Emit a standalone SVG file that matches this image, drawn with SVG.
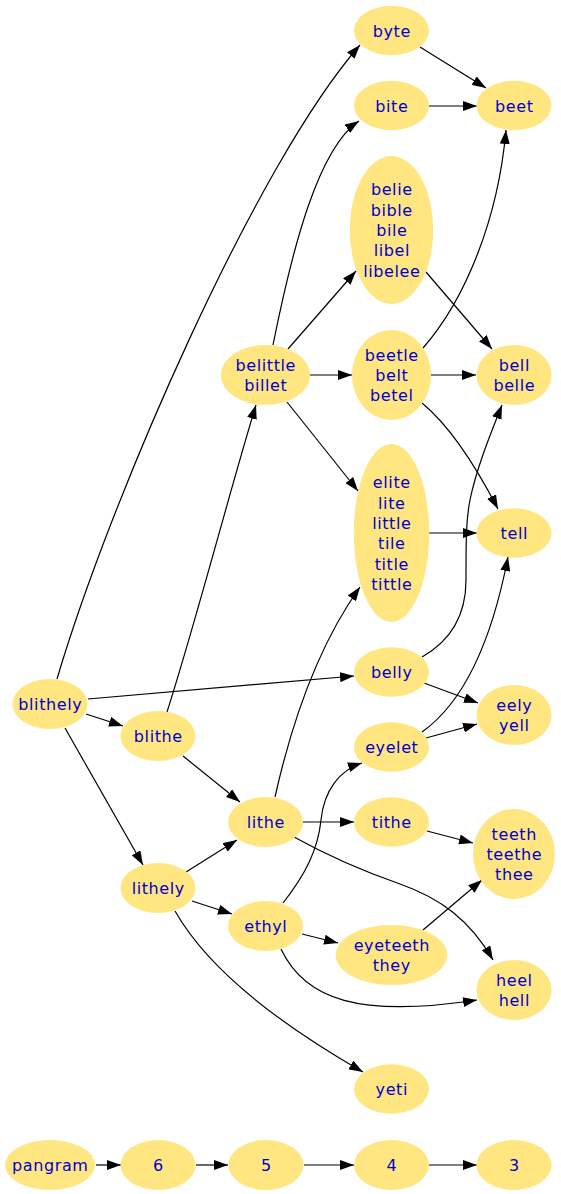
<svg xmlns="http://www.w3.org/2000/svg" width="561" height="1194" viewBox="0 0 561 1194">
<defs>
<style>
.n ellipse{fill:#ffe680;stroke:none}
.n text{font-family:"DejaVu Sans",sans-serif;font-size:16px;letter-spacing:0.6px;fill:#0000d0;text-anchor:middle}
.e path{fill:none;stroke:#000;stroke-width:1.2;marker-end:url(#ah)}
</style>
<marker id="ah" viewBox="0 0 14 10" refX="14" refY="5" markerWidth="14" markerHeight="10" markerUnits="userSpaceOnUse" orient="auto"><path d="M0,0 L14,5 L0,10 z" fill="#000"/></marker>
</defs>
<rect width="561" height="1194" fill="#fff"/>
<g id="edges" class="e">
<path d="M57,679 C110,500 255,165 360,45"/>
<path d="M88,699 L354,676"/>
<path d="M86,714 L123,726"/>
<path d="M65,728 L143,865"/>
<path d="M167,712 C195,625 230,490 256,405"/>
<path d="M183,756 L240,802"/>
<path d="M186,872 L237,840"/>
<path d="M192,901 L232,914"/>
<path d="M175,911 C200,955 255,1010 363,1072"/>
<path d="M273,345 C292,250 318,148 359,121"/>
<path d="M288,349 L356,271"/>
<path d="M310,375 L352,375"/>
<path d="M287,402 L358,491"/>
<path d="M275,797 C290,730 315,650 360,587"/>
<path d="M303,822 L354,822"/>
<path d="M294,837 C330,857 360,870 400,884 C440,898 470,920 493,960"/>
<path d="M283,903 C305,875 318,850 321,820 C324,790 340,770 362,763"/>
<path d="M302,934 L338,943"/>
<path d="M281,949 C305,1000 360,1018 477,1000"/>
<path d="M420,47 L486,88"/>
<path d="M429,106 L477,106"/>
<path d="M426,272 L492,349"/>
<path d="M423,348 C465,300 498,220 506,130"/>
<path d="M431,375 L476,375"/>
<path d="M422,403 C445,422 470,455 498,509"/>
<path d="M429,533 L477,533"/>
<path d="M422,657 C452,640 466,615 466,580 C466,540 466,520 470,500 C476,470 490,435 502,405"/>
<path d="M424,683 L478,703"/>
<path d="M426,738 L477,724"/>
<path d="M422,732 C460,705 490,650 508,557"/>
<path d="M427,831 L473,843"/>
<path d="M423,930 L482,880"/>
<path d="M96,1165 L121,1165"/>
<path d="M196,1165 L228,1165"/>
<path d="M304,1165 L354,1165"/>
<path d="M429,1165 L477,1165"/>
</g>
<g id="byte" class="n"><ellipse cx="391.5" cy="30.5" rx="37.5" ry="24.7"/><text x="391.8" y="36.5">byte</text></g>
<g id="bite" class="n"><ellipse cx="391.5" cy="105.5" rx="37.5" ry="24.7"/><text x="391.8" y="111.5">bite</text></g>
<g id="beet" class="n"><ellipse cx="514" cy="105.5" rx="37.5" ry="24.7"/><text x="514.3" y="111.5">beet</text></g>
<g id="belie" class="n"><ellipse cx="391.5" cy="230" rx="41.7" ry="74"/><text x="391.8" y="195.4">belie</text><text x="391.8" y="215.7">bible</text><text x="391.8" y="236">bile</text><text x="391.8" y="256.3">libel</text><text x="391.8" y="276.6">libelee</text></g>
<g id="belittle" class="n"><ellipse cx="265.5" cy="375" rx="44.7" ry="30"/><text x="265.8" y="370.9">belittle</text><text x="265.8" y="391.2">billet</text></g>
<g id="beetle" class="n"><ellipse cx="391.5" cy="375" rx="39.5" ry="45"/><text x="391.8" y="360.7">beetle</text><text x="391.8" y="381">belt</text><text x="391.8" y="401.3">betel</text></g>
<g id="bell" class="n"><ellipse cx="514" cy="375" rx="37.5" ry="30"/><text x="514.3" y="370.9">bell</text><text x="514.3" y="391.2">belle</text></g>
<g id="elite" class="n"><ellipse cx="391.5" cy="533" rx="37.7" ry="89"/><text x="391.8" y="488.3">elite</text><text x="391.8" y="508.6">lite</text><text x="391.8" y="528.9">little</text><text x="391.8" y="549.2">tile</text><text x="391.8" y="569.5">title</text><text x="391.8" y="589.8">tittle</text></g>
<g id="tell" class="n"><ellipse cx="514" cy="533" rx="37.5" ry="24.7"/><text x="514.3" y="539">tell</text></g>
<g id="blithely" class="n"><ellipse cx="50" cy="704" rx="37.5" ry="25"/><text x="50.3" y="710">blithely</text></g>
<g id="belly" class="n"><ellipse cx="391.5" cy="672" rx="37.5" ry="24.7"/><text x="391.8" y="678">belly</text></g>
<g id="eely" class="n"><ellipse cx="514" cy="715" rx="37.5" ry="30"/><text x="514.3" y="710.9">eely</text><text x="514.3" y="731.2">yell</text></g>
<g id="blithe" class="n"><ellipse cx="158" cy="736" rx="37.5" ry="25"/><text x="158.3" y="742">blithe</text></g>
<g id="eyelet" class="n"><ellipse cx="391.5" cy="747" rx="37.5" ry="24.7"/><text x="391.8" y="753">eyelet</text></g>
<g id="lithe" class="n"><ellipse cx="265.5" cy="822" rx="37.5" ry="25"/><text x="265.8" y="828">lithe</text></g>
<g id="tithe" class="n"><ellipse cx="391.5" cy="822" rx="37.5" ry="24.7"/><text x="391.8" y="828">tithe</text></g>
<g id="teeth" class="n"><ellipse cx="514" cy="854" rx="41" ry="45"/><text x="514.3" y="839.7">teeth</text><text x="514.3" y="860">teethe</text><text x="514.3" y="880.3">thee</text></g>
<g id="lithely" class="n"><ellipse cx="158" cy="888" rx="37.5" ry="25"/><text x="158.3" y="894">lithely</text></g>
<g id="ethyl" class="n"><ellipse cx="265.5" cy="926" rx="37.5" ry="25"/><text x="265.8" y="932">ethyl</text></g>
<g id="eyeteeth" class="n"><ellipse cx="391.5" cy="955" rx="55.8" ry="30"/><text x="391.8" y="950.9">eyeteeth</text><text x="391.8" y="971.2">they</text></g>
<g id="heel" class="n"><ellipse cx="514" cy="990" rx="37.5" ry="30"/><text x="514.3" y="985.9">heel</text><text x="514.3" y="1006.2">hell</text></g>
<g id="yeti" class="n"><ellipse cx="391.5" cy="1089" rx="37.5" ry="24.7"/><text x="391.8" y="1095">yeti</text></g>
<g id="pangram" class="n"><ellipse cx="50" cy="1165" rx="45" ry="25"/><text x="50.3" y="1171">pangram</text></g>
<g id="n6" class="n"><ellipse cx="158" cy="1165" rx="37.5" ry="25"/><text x="158.3" y="1171">6</text></g>
<g id="n5" class="n"><ellipse cx="266" cy="1165" rx="37.5" ry="25"/><text x="266.3" y="1171">5</text></g>
<g id="n4" class="n"><ellipse cx="391.5" cy="1165" rx="37.5" ry="25"/><text x="391.8" y="1171">4</text></g>
<g id="n3" class="n"><ellipse cx="514" cy="1165" rx="37.5" ry="25"/><text x="514.3" y="1171">3</text></g>
</svg>
